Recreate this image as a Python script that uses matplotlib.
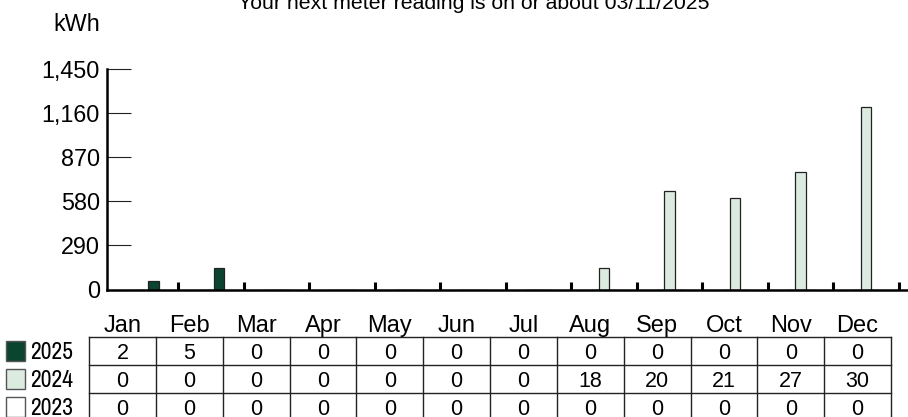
import numpy as np
import matplotlib
matplotlib.use("Agg")
import matplotlib.pyplot as plt
from matplotlib.patches import Rectangle
from matplotlib import font_manager
from matplotlib.ticker import FuncFormatter

# ---------------- data ----------------
months = ["Jan", "Feb", "Mar", "Apr", "May", "Jun",
          "Jul", "Aug", "Sep", "Oct", "Nov", "Dec"]
years = ["2025", "2024", "2023"]

# bar heights (kWh)
kwh_2025 = [58, 141, 0, 0, 0, 0, 0, 0, 0, 0, 0, 0]
kwh_2024 = [0, 0, 0, 0, 0, 0, 0, 141, 646, 604, 775, 1198]
kwh_2023 = [0, 0, 0, 0, 0, 0, 0, 0, 0, 0, 0, 0]

# numbers shown in the table under the chart
tbl_2025 = [2, 5, 0, 0, 0, 0, 0, 0, 0, 0, 0, 0]
tbl_2024 = [0, 0, 0, 0, 0, 0, 0, 18, 20, 21, 27, 30]
tbl_2023 = [0, 0, 0, 0, 0, 0, 0, 0, 0, 0, 0, 0]

y_ticks = [0, 290, 580, 870, 1160, 1450]
title = "Your next meter reading is on or about 03/11/2025"

# ---------------- style ----------------
DARK = "#0b4530"
LIGHT = "#dcebe0"
colors = {"2025": DARK, "2024": LIGHT, "2023": "#ffffff"}

names = {f.name for f in font_manager.fontManager.ttflist}
FONT = "Liberation Sans" if "Liberation Sans" in names else "DejaVu Sans"
narrow = [n for n in sorted(names) if "Narrow" in n or "Condensed" in n]
NARROW = narrow[0] if narrow else None
plt.rcParams["font.family"] = FONT

W, H = 908, 417
fig = plt.figure(figsize=(W / 100, H / 100), dpi=100)

def px(x0, y0, x1, y1):
    # pixel box (top-left origin) -> figure fraction rect
    return [x0 / W, (H - y1) / H, (x1 - x0) / W, (y1 - y0) / H]

# ---------------- bar chart ----------------
ax = fig.add_axes(px(106.7, 69, 908, 289.5))
x = np.arange(len(months))
bw = 0.16
series = [("2023", kwh_2023, -0.125), ("2024", kwh_2024, 0.0), ("2025", kwh_2025, 0.125)]
for yr, vals, off in series:
    ax.bar(x + off, vals, width=bw, color=colors[yr], edgecolor="#222222",
           linewidth=0.9, zorder=2)

ax.set_xlim(-0.593, 11.642)
ax.set_ylim(0, 1450)
ax.set_yticks(y_ticks)
ax.yaxis.set_major_formatter(FuncFormatter(lambda v, p: f"{int(v):,}"))
ax.tick_params(axis="y", direction="in", length=17, width=0.8, pad=5,
               labelsize=16.8, colors="#222222", labelcolor="black")
ax.set_xticks([])
ax.set_xticks(x + 0.5, minor=True)
ax.tick_params(axis="x", which="minor", direction="in", length=5.5, width=2.2,
               color="black")
for s in ["top", "right"]:
    ax.spines[s].set_visible(False)
for s in ["left", "bottom"]:
    ax.spines[s].set_linewidth(1.8)
    ax.spines[s].set_zorder(3)
ax.patch.set_alpha(0)

fig.text(100 / W, 1 - 30.7 / H, "kWh", ha="right", va="baseline", fontsize=16.8)
fig.text(474 / W, 1 - 9.3 / H, title, ha="center", va="baseline", fontsize=15.3)

# ---------------- data table ----------------
tx = fig.add_axes(px(89, 336.7, 891, 421.7))
tx.set_xlim(0, 12)
tx.set_ylim(3, 0)
tx.axis("off")
for i in range(13):
    tx.plot([i, i], [0, 3], color="#222222", lw=1.0, clip_on=False)
for j in range(4):
    tx.plot([0, 12], [j, j], color="#222222", lw=1.0, clip_on=False)

for i, m in enumerate(months):
    tx.text(i + 0.5, -0.18, m, ha="center", va="baseline", fontsize=17, clip_on=False)

rows = [tbl_2025, tbl_2024, tbl_2023]
for r, vals in enumerate(rows):
    for i, v in enumerate(vals):
        tx.text(i + 0.5, r + 0.78, str(v), ha="center", va="baseline", fontsize=15.5)

# legend squares on the left of the table rows
leg_kw = dict(fontsize=17, family=NARROW) if NARROW else dict(fontsize=14.5)
for r, yr in enumerate(years):
    y0 = 336.7 + r * 28.33 + 4
    fig.patches.append(Rectangle((6 / W, (H - y0 - 20) / H), 19 / W, 20 / H,
                                 transform=fig.transFigure, facecolor=colors[yr],
                                 edgecolor="#555555", linewidth=1.0))
    fig.text(30.5 / W, 1 - (y0 + 18) / H, yr, ha="left", va="baseline", **leg_kw)

fig.savefig("out.png", dpi=100)
